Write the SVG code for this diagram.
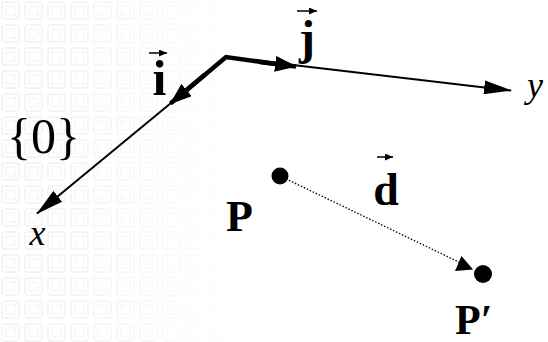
<svg xmlns="http://www.w3.org/2000/svg" width="548" height="342" viewBox="0 0 548 342">
<style>
.bold{font-family:"Liberation Serif","Times New Roman",serif;font-weight:bold;fill:#000}
.reg{font-family:"Liberation Serif","Times New Roman",serif;fill:#000}
.ital{font-family:"Liberation Serif","Times New Roman",serif;font-style:italic;fill:#000}
.axis{stroke:#000;stroke-width:2;fill:none}
.thick{stroke:#000;stroke-width:4.5;fill:none;stroke-linejoin:miter}
.vec{stroke:#000;stroke-width:1.5;fill:none}
.dot{fill:#000}
</style>
<defs>
<marker id="ah-axis" markerUnits="userSpaceOnUse" markerWidth="28" markerHeight="14" viewBox="0 0 28 14" refX="27" refY="7" orient="auto">
<path d="M0,0 L28,7 L0,14 Z" fill="#000"/>
</marker>
<marker id="ah-thick" markerUnits="userSpaceOnUse" markerWidth="22" markerHeight="16" viewBox="0 0 22 16" refX="21" refY="8" orient="auto">
<path d="M0,0 L22,8 L0,16 Z" fill="#000"/>
</marker>
<marker id="ah-small" markerUnits="userSpaceOnUse" markerWidth="8" markerHeight="7" viewBox="0 0 8 7" refX="8" refY="3.5" orient="auto">
<path d="M0,0 L8,3.5 L0,7 Z" fill="#000"/>
</marker>
<pattern id="grid" width="23" height="23" patternUnits="userSpaceOnUse">
<rect x="2" y="2" width="17" height="17" rx="2" fill="none" stroke="#e6e6e6" stroke-width="1"/>
<rect x="6" y="6" width="9" height="9" fill="none" stroke="#f0f0f0" stroke-width="1"/>
</pattern>
<linearGradient id="fade" x1="0" y1="0" x2="1" y2="0">
<stop offset="0" stop-color="#fff" stop-opacity="0.9"/>
<stop offset="0.5" stop-color="#fff" stop-opacity="0.6"/>
<stop offset="1" stop-color="#fff" stop-opacity="0"/>
</linearGradient>
<mask id="fadeMask">
<rect x="0" y="0" width="240" height="342" fill="url(#fade)"/>
</mask>
</defs>
<rect width="548" height="342" fill="#fff"/>
<rect x="0" y="0" width="240" height="342" fill="url(#grid)" mask="url(#fadeMask)"/>

<g id="connectors">
<line class="axis" x1="171" y1="103" x2="37" y2="213.5" marker-end="url(#ah-axis)"/>
<line class="axis" x1="293" y1="65" x2="511" y2="90.5" marker-end="url(#ah-axis)"/>
<polyline class="thick" points="185,91.5 226,57 280,64.5"/>
<line x1="205" y1="74.5" x2="170.5" y2="103.5" stroke="#000" stroke-width="4.5" marker-end="url(#ah-thick)"/>
<line x1="260" y1="62" x2="296" y2="66.5" stroke="#000" stroke-width="4.5" marker-end="url(#ah-thick)"/>
<line x1="280" y1="176" x2="465" y2="265" stroke="#000" stroke-width="1.3" stroke-dasharray="1.5,1.8"/>
<polygon points="473,269.5 461.5,256 455,271" fill="#000"/>
</g>

<g id="origin-label"><text class="reg" x="43.5" y="153" font-size="50" text-anchor="middle">{0}</text></g>
<g id="x-label"><text class="ital" x="37.5" y="245" font-size="36" text-anchor="middle">x</text></g>
<g id="y-label"><text class="ital" x="535" y="97" font-size="36" text-anchor="middle">y</text></g>

<g id="i-vector">
<text class="bold" x="159.5" y="95" font-size="50" text-anchor="middle">i</text>
<line class="vec" x1="149" y1="53" x2="167" y2="53" marker-end="url(#ah-small)"/>
</g>
<g id="j-vector">
<text class="bold" x="307" y="54" font-size="48" text-anchor="middle">j</text>
<line class="vec" x1="297" y1="11" x2="317" y2="11" marker-end="url(#ah-small)"/>
</g>
<g id="d-vector">
<text class="bold" x="386" y="205" font-size="46" text-anchor="middle">d</text>
<line class="vec" x1="377" y1="157" x2="393" y2="157" marker-end="url(#ah-small)"/>
</g>

<g id="P">
<circle class="dot" cx="280" cy="176" r="8.5"/>
<text class="bold" x="239.5" y="231" font-size="44" text-anchor="middle">P</text>
</g>
<g id="P-prime">
<circle class="dot" cx="483" cy="274" r="9"/>
<text class="bold" x="455" y="334" font-size="42">P′</text>
</g>
</svg>
